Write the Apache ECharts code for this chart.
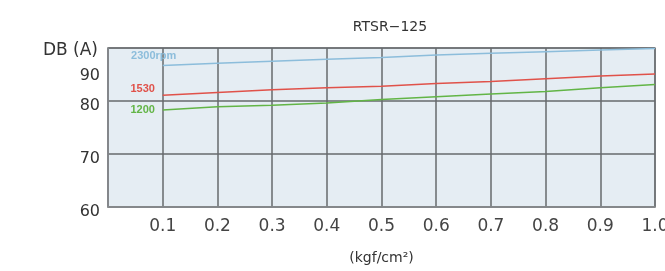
<!DOCTYPE html>
<html>
<head>
<meta charset="utf-8">
<script src="https://cdn.jsdelivr.net/npm/echarts@6/dist/echarts.min.js"></script>
<style>
  html, body { margin: 0; padding: 0; background: #fff; }
  #chart { width: 665px; height: 271px; }
</style>
</head>
<body>
<div id="chart"></div>
<script>
// pressure (kgf/cm2)
var pressure = [0.1, 0.2, 0.3, 0.4, 0.5, 0.6, 0.7, 0.8, 0.9, 1.0];
// noise DB(A) per speed
var rpm2300 = [86.7, 87.1, 87.5, 87.9, 88.2, 88.7, 89.0, 89.3, 89.6, 89.9];
var rpm1530 = [81.1, 81.6, 82.1, 82.5, 82.8, 83.3, 83.7, 84.2, 84.7, 85.1];
var rpm1200 = [78.3, 78.9, 79.2, 79.6, 80.3, 80.8, 81.3, 81.8, 82.5, 83.1];
var seriesNames = ['2300rpm', '1530', '1200'];
// y tick labels (the "90" label sits lower than a linear scale would put it)
var yTickValues = [60, 70, 80, 85.7];
var yTickText = ['60', '70', '80', '90'];

var chart = echarts.init(document.getElementById('chart'));

function pairs(ys) {
    return ys.map(function (y, i) { return [pressure[i], y]; });
}

function lineSeries(name, ys, color, offset) {
    return {
        name: name,
        type: 'line',
        data: pairs(ys),
        symbolSize: 0,
        lineStyle: { color: color, width: 1.5 },
        itemStyle: { color: color },
        label: {
            show: true,
            position: 'inside',
            offset: offset,
            color: color,
            fontSize: 11,
            fontWeight: 'bold',
            fontFamily: 'Liberation Sans Narrow, Liberation Sans, sans-serif',
            formatter: function (p) { return p.dataIndex === 0 ? name : ''; }
        },
        silent: true
    };
}

var option = {
    animation: false,
    title: {
        text: 'RTSR−125',
        left: 385,
        top: 15,
        textAlign: 'center',
        textStyle: { fontSize: 14, fontWeight: 'normal', color: '#333', fontFamily: 'DejaVu Sans' }
    },
    grid: {
        left: 108, right: 10, top: 48, bottom: 64,
        outerBoundsMode: 'none',
        containLabel: false,
        show: true,
        backgroundColor: '#e5edf3',
        borderColor: '#8a8d90',
        borderWidth: 1.5
    },
    xAxis: {
        type: 'value',
        min: 0, max: 1, interval: 0.1,
        name: '(kgf/cm²)',
        nameLocation: 'middle',
        nameGap: 44,
        nameTextStyle: { fontSize: 14, color: '#333', fontFamily: 'DejaVu Sans' },
        axisLine: { show: true, lineStyle: { color: '#8a8d90', width: 1.5 } },
        axisTick: { show: false },
        axisLabel: {
            margin: 11,
            fontSize: 17,
            color: '#444',
            fontFamily: 'DejaVu Sans',
            showMaxLabel: true,
            hideOverlap: false,
            formatter: function (v) { return v === 0 ? '' : v.toFixed(1); }
        },
        splitLine: { show: true, lineStyle: { color: '#666a6d', width: 1.5 } }
    },
    yAxis: {
        type: 'value',
        min: 60, max: 90, interval: 10,
        name: 'DB (A)',
        nameLocation: 'end',
        nameGap: -3,
        nameTextStyle: { fontSize: 17, color: '#333', align: 'right', padding: [0, 10, 0, 0], verticalAlign: 'middle', fontFamily: 'DejaVu Sans' },
        axisLine: { show: true, lineStyle: { color: '#8a8d90', width: 1.5 } },
        axisTick: { show: false },
        axisLabel: {
            margin: 8,
            fontSize: 16,
            color: '#333',
            fontFamily: 'DejaVu Sans',
            customValues: yTickValues,
            verticalAlign: 'top',
            lineHeight: 10,
            formatter: function (v) {
                var i = yTickValues.indexOf(v);
                return i >= 0 ? yTickText[i] : '';
            }
        },
        splitLine: { show: true, lineStyle: { color: '#666a6d', width: 1.5 } }
    },
    series: [
        lineSeries(seriesNames[0], rpm2300, '#8cbddb', [-9, -10]),
        lineSeries(seriesNames[1], rpm1530, '#e0524a', [-20, -6]),
        lineSeries(seriesNames[2], rpm1200, '#62b546', [-20, 0])
    ]
};

chart.setOption(option);
</script>
</body>
</html>
